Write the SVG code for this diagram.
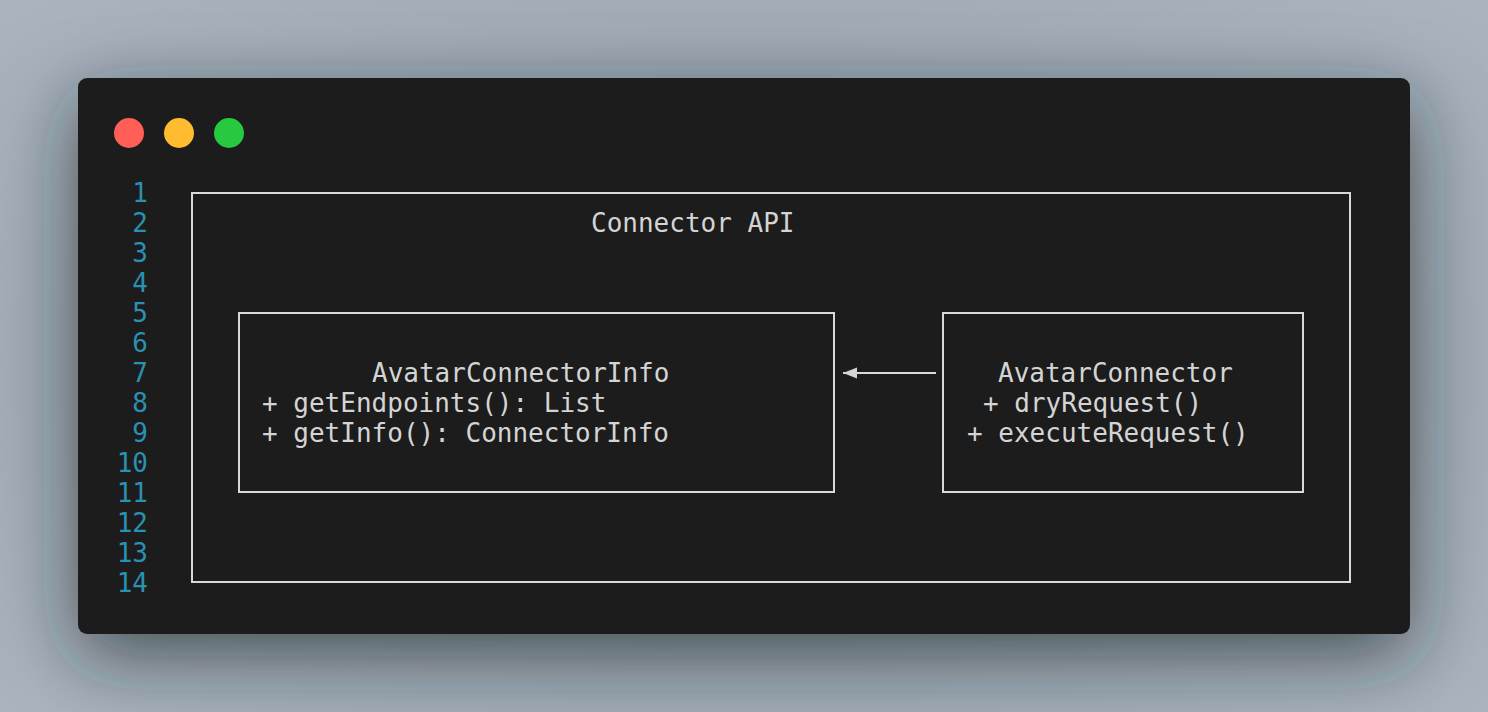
<svg xmlns="http://www.w3.org/2000/svg" width="1488" height="712" viewBox="0 0 1488 712">
<defs>
<radialGradient id="bg" cx="50%" cy="50%" r="75%">
<stop offset="0" stop-color="#8e99a4"/>
<stop offset="1" stop-color="#abb6c1"/>
</radialGradient>
<filter id="sh" x="-40%" y="-80%" width="180%" height="260%">
<feDropShadow dx="0" dy="22" stdDeviation="36" flood-color="#1b2027" flood-opacity="0.65"/>
</filter>
<marker id="ah" markerWidth="14" markerHeight="12" refX="14" refY="6" orient="auto" markerUnits="userSpaceOnUse">
<path d="M14,6 L0,0.5 L0,11.5 Z" fill="#d4d4d4"/>
</marker>
</defs>
<style>
.code{font-family:"DejaVu Sans Mono","Liberation Mono",monospace;font-size:26px;fill:#d4d4d4}
.ln{font-family:"DejaVu Sans Mono","Liberation Mono",monospace;font-size:26px;fill:#2b91b3;text-anchor:end}
.box{fill:none;stroke:#d9d9d9;stroke-width:2}
.conn{stroke:#d9d9d9;stroke-width:2;fill:none}
</style>
<rect width="1488" height="712" fill="url(#bg)"/>
<rect x="78" y="78" width="1332" height="556" rx="9" fill="#1e1e1e" filter="url(#sh)"/>
<circle cx="129" cy="133" r="15" fill="#ff5f57"/>
<circle cx="179" cy="133" r="15" fill="#febc2e"/>
<circle cx="229" cy="133" r="15" fill="#28c840"/>
<g id="line-numbers">
<text class="ln" x="148" y="202">1</text>
<text class="ln" x="148" y="232">2</text>
<text class="ln" x="148" y="262">3</text>
<text class="ln" x="148" y="292">4</text>
<text class="ln" x="148" y="322">5</text>
<text class="ln" x="148" y="352">6</text>
<text class="ln" x="148" y="382">7</text>
<text class="ln" x="148" y="412">8</text>
<text class="ln" x="148" y="442">9</text>
<text class="ln" x="148" y="472">10</text>
<text class="ln" x="148" y="502">11</text>
<text class="ln" x="148" y="532">12</text>
<text class="ln" x="148" y="562">13</text>
<text class="ln" x="148" y="592">14</text>
</g>
<g id="connector-api">
<rect class="box" x="192" y="193" width="1158" height="389"/>
<text class="code" x="591" y="232">Connector API</text>
</g>
<g id="avatar-connector-info">
<rect class="box" x="239" y="313" width="595" height="179"/>
<text class="code" x="372" y="382">AvatarConnectorInfo</text>
<text class="code" x="262" y="412">+ getEndpoints(): List</text>
<text class="code" x="262" y="442">+ getInfo(): ConnectorInfo</text>
</g>
<g id="avatar-connector">
<rect class="box" x="943" y="313" width="360" height="179"/>
<text class="code" x="998" y="382">AvatarConnector</text>
<text class="code" x="983" y="412">+ dryRequest()</text>
<text class="code" x="967" y="442">+ executeRequest()</text>
</g>
<g id="connectors">
<line class="conn" x1="936" y1="373" x2="843" y2="373" marker-end="url(#ah)"/>
</g>
</svg>
